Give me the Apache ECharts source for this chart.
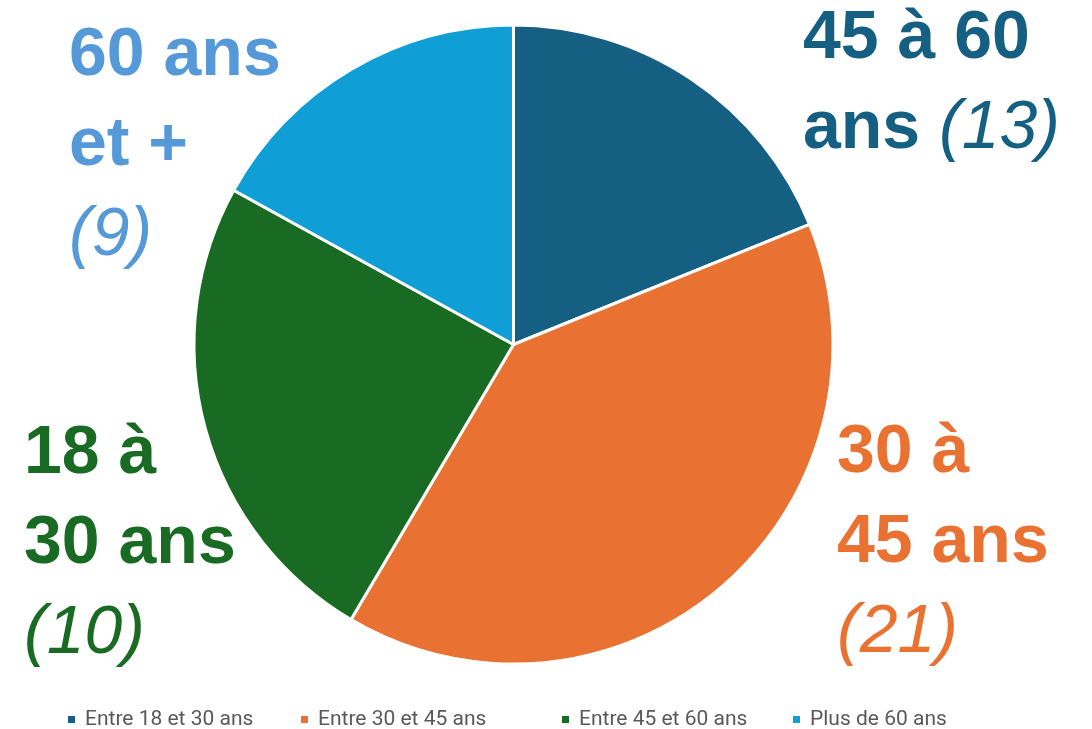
<!DOCTYPE html>
<html>
<head>
<meta charset="utf-8">
<script src="https://cdn.jsdelivr.net/npm/echarts@6/dist/echarts.min.js"></script>
<style>
html,body{margin:0;padding:0;background:#fff;}
#chart{width:1092px;height:729px;}
</style>
</head>
<body>
<div id="chart"></div>
<script>
// Data
var categories = ["Entre 18 et 30 ans", "Entre 30 et 45 ans", "Entre 45 et 60 ans", "Plus de 60 ans"];
var values = [10, 21, 13, 9];
var sliceColors = ["#156082", "#e97132", "#196b24", "#0f9ed5"];
var labelColors = ["#156082", "#e97132", "#196b24", "#5699d8"];
var labelTexts = [
  "{b|45 à 60}\n{b|ans}{i| (13)}",
  "{b|30 à}\n{b|45 ans}\n{i|(21)}",
  "{b|18 à}\n{b|30 ans}\n{i|(10)}",
  "{b|60 ans}\n{b|et +}\n{i|(9)}"
];
// label anchor (left, vertical middle of block)
var labelAnchors = [[803, 84], [837, 543], [24, 544], [69, 146]];
var legendLefts = [66, 299, 560, 791];

var chart = echarts.init(document.getElementById('chart'), null, {renderer: 'canvas'});

var data = categories.map(function (c, i) {
  return {
    name: c,
    value: values[i],
    itemStyle: {color: sliceColors[i]},
    label: {
      formatter: labelTexts[i],
      rich: {
        b: {fontFamily: 'Liberation Sans', fontWeight: 'bold', fontSize: 68, lineHeight: 90, color: labelColors[i]},
        i: {fontFamily: 'Liberation Sans', fontStyle: 'italic', fontWeight: 'normal', fontSize: 68, lineHeight: 90, color: labelColors[i]}
      }
    }
  };
});

var legends = categories.map(function (c, i) {
  return {
    data: [c],
    left: legendLefts[i],
    top: 709,
    padding: 0,
    itemWidth: 9,
    itemHeight: 9,
    icon: 'rect',
    selectedMode: false,
    textStyle: {fontFamily: 'Roboto', fontSize: 21, color: '#595959', padding: [0, 0, 0, 4]}
  };
});

chart.setOption({
  animation: false,
  legend: legends,
  series: [{
    type: 'pie',
    center: [513.5, 344.5],
    radius: 319.5,
    startAngle: 90,
    clockwise: true,
    avoidLabelOverlap: false,
    itemStyle: {borderColor: '#ffffff', borderWidth: 3},
    label: {show: true, position: 'inside', fontFamily: 'Liberation Sans', fontSize: 68},
    labelLine: {show: false},
    emphasis: {disabled: true},
    labelLayout: function (params) {
      var a = labelAnchors[params.dataIndex];
      return {x: a[0], y: a[1], align: 'left', verticalAlign: 'middle'};
    },
    data: data
  }]
});
</script>
</body>
</html>
